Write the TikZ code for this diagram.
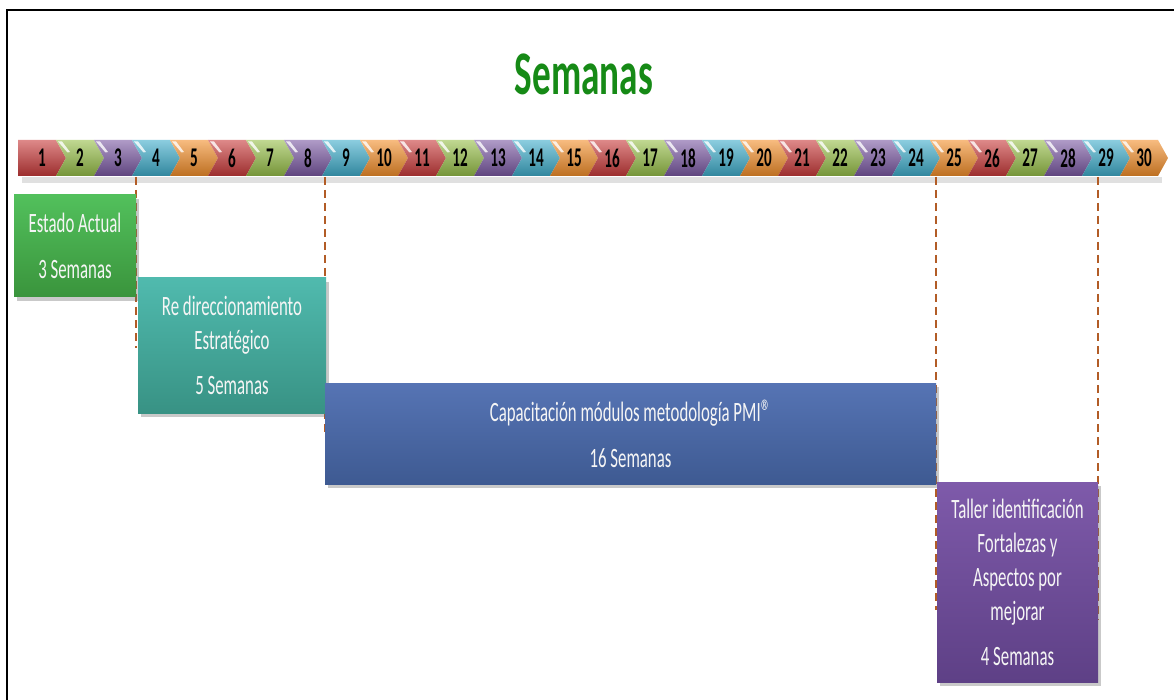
\documentclass[tikz,border=0pt]{standalone}
\usepackage{fontspec}
\setmainfont{Carlito}
\newfontfamily\numfont{Carlito}[FakeStretch=0.56]
\newfontfamily\boxfont{Carlito}[FakeStretch=0.6]
\newfontfamily\titlefont{Carlito}[FakeStretch=0.6]
\usetikzlibrary{shadows}
\definecolor{chR}{RGB}{200,58,58}
\definecolor{chG}{RGB}{150,190,72}
\definecolor{chP}{RGB}{122,88,162}
\definecolor{chB}{RGB}{62,172,202}
\definecolor{chO}{RGB}{242,142,42}
\definecolor{guide}{RGB}{178,92,38}
\definecolor{titlegreen}{RGB}{22,138,22}
\tikzset{
  chev/.style={draw=none},
  chevnum/.style={font={\numfont\bfseries\fontsize{27}{27}\selectfont}, text=black, inner sep=0pt},
  phase/.style={rectangle, draw=none, inner sep=0pt, text=white!96!black, align=center,
    font={\boxfont\fontsize{28}{34}\selectfont},
    drop shadow={shadow xshift=3pt, shadow yshift=-4pt, opacity=0.35, fill=black!60}},
  guideline/.style={draw=guide, line width=1.4pt, dash pattern=on 8pt off 5pt},
  frame/.style={draw=black, line width=2pt}
}
\begin{document}
\begin{tikzpicture}[x=1pt,y=-1pt]
\useasboundingbox (0,0) rectangle (1174,700);
\fill[white] (0,0) rectangle (1174,700);
% frame
\draw[frame] (7,700) -- (7,10) -- (1174,10);
% title
\node[font={\titlefont\bfseries\fontsize{62}{62}\selectfont}, text=titlegreen] (title) at (584,74) {Semanas};
% bar shadow
\fill[black!20, opacity=0.6] (22,177) rectangle (1162,183);
% chevrons
\foreach \i in {1,...,30}{
  \pgfmathsetmacro\xx{18+(\i-1)*38}
  \pgfmathtruncatemacro\k{mod(\i-1,5)}
  \ifcase\k \def\cc{chR}\or \def\cc{chG}\or \def\cc{chP}\or \def\cc{chB}\or \def\cc{chO}\fi
  \ifnum\i=1
    \shade[chev, top color=\cc!60!white, middle color=\cc, bottom color=\cc!78!black]
      (\xx,140) -- ++(38,0) -- ++(10,18) -- ++(-10,18) -- ++(-38,0) -- cycle;
  \else
    \shade[chev, top color=\cc!60!white, middle color=\cc, bottom color=\cc!78!black]
      (\xx,140) -- ++(38,0) -- ++(10,18) -- ++(-10,18) -- ++(-38,0) -- ++(10,-18) -- cycle;
    \fill[white, opacity=0.8] (\xx+2,141.5) -- (\xx+6,141.5) -- (\xx+14,152) -- (\xx+11.5,152.5) -- cycle;
  \fi
  \node[chevnum] (c\i) at (\xx+24,158) {\i};
}
% guide lines
\coordinate (g1a) at (136,177); \coordinate (g1b) at (136,348);
\coordinate (g2a) at (325,177); \coordinate (g2b) at (325,432);
\coordinate (g3a) at (936,177); \coordinate (g3b) at (936,610);
\coordinate (g4a) at (1098,177); \coordinate (g4b) at (1098,620);
\draw[guideline] (g1a) -- (g1b);
\draw[guideline] (g2a) -- (g2b);
\draw[guideline] (g3a) -- (g3b);
\draw[guideline] (g4a) -- (g4b);
% phases
\node[phase, top color={rgb,255:red,82;green,192;blue,92}, bottom color={rgb,255:red,58;green,148;blue,60},
  minimum width=122pt, minimum height=102pt] (estado) at (75,246)
  {Estado Actual\\[12pt]3 Semanas};
\node[phase, top color={rgb,255:red,80;green,186;blue,174}, bottom color={rgb,255:red,56;green,146;blue,132},
  minimum width=188pt, minimum height=135pt] (redir) at (232,345.5)
  {Re direccionamiento\\Estratégico\\[11pt]5 Semanas};
\node[phase, top color={rgb,255:red,86;green,116;blue,180}, bottom color={rgb,255:red,62;green,90;blue,146},
  minimum width=611pt, minimum height=101pt] (capac) at (630.5,433.5)
  {Capacitación módulos metodología PMI{\fontsize{34}{34}\selectfont\raisebox{-2pt}{®}}\\[12pt]16 Semanas};
\node[phase, top color={rgb,255:red,126;green,90;blue,170}, bottom color={rgb,255:red,94;green,64;blue,134},
  minimum width=161pt, minimum height=200pt] (taller) at (1017.5,582)
  {Taller identificación\\Fortalezas y\\Aspectos por\\mejorar\\[11pt]4 Semanas};
\end{tikzpicture}
\end{document}
